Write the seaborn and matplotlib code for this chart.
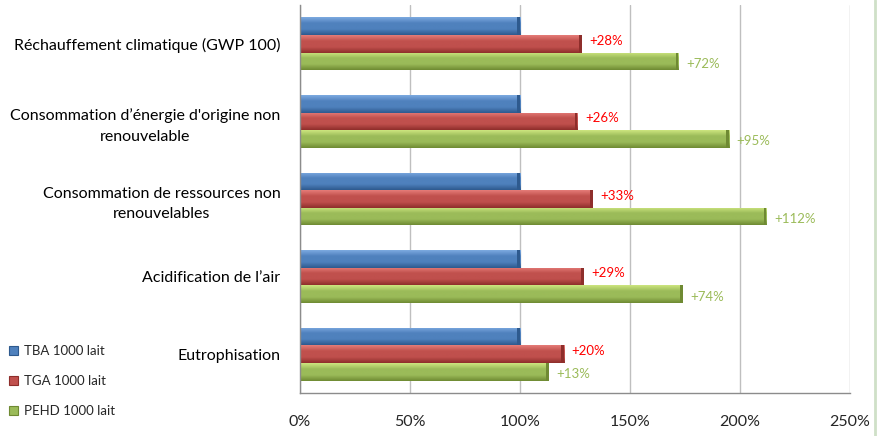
import matplotlib
import matplotlib.pyplot as plt
import numpy as np
import pandas as pd
import seaborn as sns
from matplotlib.colors import LinearSegmentedColormap
from matplotlib.lines import Line2D
from matplotlib.patches import Rectangle

matplotlib.use("Agg")

categories = [
    "Réchauffement climatique (GWP 100)",
    "Consommation d’énergie d'origine non\nrenouvelable",
    "Consommation de ressources non\nrenouvelables",
    "Acidification de l’air",
    "Eutrophisation",
]
series = ["TBA 1000 lait", "TGA 1000 lait", "PEHD 1000 lait"]
tba = [100, 100, 100, 100, 100]
tga = [128, 126, 133, 129, 120]
pehd = [172, 195, 212, 174, 113]
x_ticks = [0, 50, 100, 150, 200, 250]

colors = ["#4F81BD", "#C0504D", "#9BBB59"]
light = ["#7DAAE0", "#E57C78", "#CDE57F"]
dark = ["#2E5A8E", "#8E2E2B", "#6F8A33"]
label_colors = [None, "#FF0000", "#9BBB59"]

df = pd.DataFrame({
    "cat": categories * 3,
    "val": tba + tga + pehd,
    "series": [s for s in series for _ in categories],
})

sns.set_style("white")
plt.rcParams["font.family"] = ["Lato", "DejaVu Sans"]

fig = plt.figure(figsize=(8.78, 4.36), dpi=100)
ax = fig.add_axes([300 / 878, 1 - 393 / 436, 550 / 878, 388 / 436])

sns.barplot(data=df, y="cat", x="val", hue="series", orient="h",
            palette=colors, width=0.68, ax=ax, legend=False,
            edgecolor="none", linewidth=0)

# gradient shading on each bar
for i, container in enumerate(ax.containers):
    cmap = LinearSegmentedColormap.from_list(
        "g%d" % i, [light[i], colors[i], colors[i], dark[i]])
    grad = np.linspace(0, 1, 64).reshape(-1, 1)
    for patch in container:
        x0, y0 = patch.get_x(), patch.get_y()
        w, h = patch.get_width(), patch.get_height()
        im = ax.imshow(grad, cmap=cmap, aspect="auto", origin="upper",
                       extent=[x0, x0 + w, y0 + h, y0], zorder=2)
        im.set_clip_path(patch)
        ax.add_patch(Rectangle((x0 + w - 1.2, y0), 1.2, h, facecolor=dark[i],
                               edgecolor="none", zorder=3))

# value labels
for i, vals in ((1, tga), (2, pehd)):
    for patch, v in zip(ax.containers[i], vals):
        yc = patch.get_y() + patch.get_height() / 2
        dy = -0.04 if i == 1 else 0.03
        ax.text(v + 3.5, yc + dy, "+%d%%" % (v - 100), color=label_colors[i],
                fontsize=9.5, va="center", ha="left")

ax.set_xlim(0, 250)
ax.set_ylim(4.5, -0.5)
ax.set_xticks(x_ticks)
ax.set_xticklabels(["%d%%" % t for t in x_ticks])
ax.set_xlabel("")
ax.set_ylabel("")
ax.xaxis.grid(True, color="#BFBFBF", linewidth=1)
ax.set_axisbelow(True)

for s in ["top", "right"]:
    ax.spines[s].set_visible(False)
for s in ["left", "bottom"]:
    ax.spines[s].set_color("#8C8C8C")
    ax.spines[s].set_linewidth(1)

ax.tick_params(axis="y", length=0, pad=14, labelsize=11.5, labelcolor="#000000")
ax.set_yticks(np.arange(-0.5, 5, 1), minor=True)
ax.tick_params(axis="y", which="minor", length=5, color="#8C8C8C", direction="out")
ax.tick_params(axis="x", length=6, direction="inout", color="#8C8C8C",
               pad=13, labelsize=11.5)
for t in ax.get_yticklabels():
    t.set_multialignment("center")
    t.set_linespacing(1.6)

# legend
handles = [Rectangle((0, 0), 1, 1, facecolor=colors[i], edgecolor=dark[i], linewidth=0.8)
           for i in range(3)]
fig.legend(handles, series, loc="upper left", bbox_to_anchor=(0.0, 1 - 336 / 436),
           frameon=False, fontsize=9.5, handlelength=0.7, handleheight=0.7,
           handletextpad=0.4, labelspacing=1.35, borderaxespad=0.3)

fig.add_artist(Line2D([875 / 878, 875 / 878], [0, 1], color="#CFE0C8", linewidth=2))

fig.savefig("out.png", dpi=100)
